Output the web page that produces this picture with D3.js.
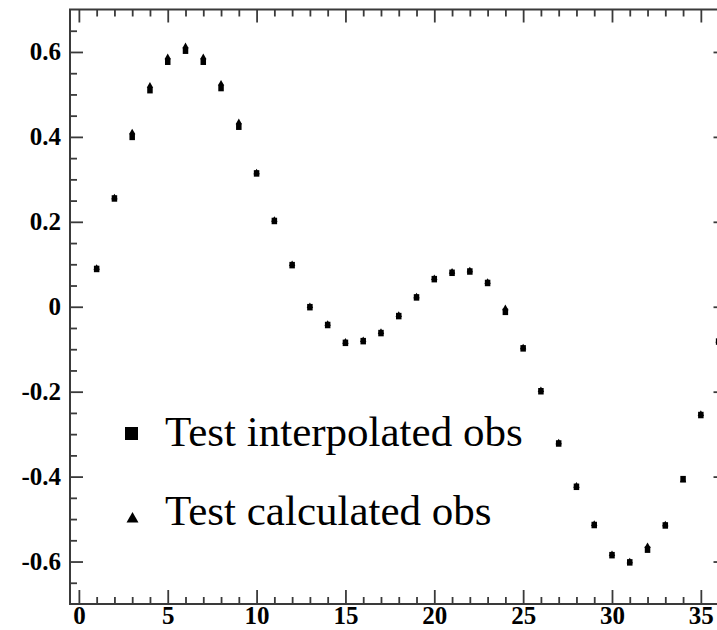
<!DOCTYPE html>
<html>
<head>
<meta charset="utf-8">
<script src="https://cdn.jsdelivr.net/npm/d3@7"></script>
<style>
  html, body { margin: 0; padding: 0; background: #fff; }
  svg { display: block; }
</style>
</head>
<body>
<svg id="chart" width="717" height="630"></svg>
<script>
// ---- data ----
const xValues = [1,2,3,4,5,6,7,8,9,10,11,12,13,14,15,16,17,18,19,20,21,22,23,24,25,26,27,28,29,30,31,32,33,34,35,36];
const interpolatedObs = [0.089,0.255,0.400,0.510,0.577,0.603,0.577,0.515,0.424,0.314,0.202,0.098,-0.001,-0.043,-0.085,-0.081,-0.062,-0.022,0.022,0.065,0.080,0.083,0.056,-0.012,-0.098,-0.199,-0.322,-0.424,-0.514,-0.585,-0.602,-0.572,-0.515,-0.406,-0.255,-0.082];
const calculatedObs  = [0.089,0.255,0.408,0.518,0.585,0.611,0.585,0.523,0.432,0.314,0.202,0.098,-0.001,-0.043,-0.085,-0.081,-0.062,-0.022,0.022,0.065,0.080,0.083,0.056,-0.006,-0.098,-0.199,-0.322,-0.424,-0.514,-0.585,-0.602,-0.566,-0.515,-0.411,-0.255,-0.082];
const xMajorTicks = [0,5,10,15,20,25,30,35];
const yMajorTicks = [0.6,0.4,0.2,0,-0.2,-0.4,-0.6];
const yTickLabels = ["0.6","0.4","0.2","0","-0.2","-0.4","-0.6"];
const legendLabels = ["Test interpolated obs","Test calculated obs"];

// ---- layout ----
const svg = d3.select("#chart");
const L = 70, R = 727.5, T = 9.5, B = 604;
const x = d3.scaleLinear().domain([-0.5, 36.5]).range([L, R]);
const y = d3.scaleLinear().domain([-0.7, 0.7]).range([B, T]);
const axisColor = "#3a3a3a";
const labelFont = "Liberation Serif, Times New Roman, serif";

const xMinor = d3.range(0, 37).filter(v => v % 5 !== 0);
const yMinor = d3.range(-13, 14).map(v => v * 0.05).filter(v => Math.abs(Math.round(v * 20)) % 4 !== 0);

function styleAxis(g) {
  g.select(".domain").remove();
  g.selectAll(".tick line").attr("stroke", axisColor).attr("stroke-width", 1.8);
}

// bottom axis
svg.append("g").attr("transform", `translate(0,${B})`)
  .call(d3.axisBottom(x).tickValues(xMajorTicks).tickSize(-14).tickFormat(d3.format("d")))
  .call(styleAxis)
  .call(g => g.selectAll("text").attr("y", 20).attr("dy", null)
    .attr("font-family", labelFont)
    .attr("font-weight", "bold").attr("font-size", 25).attr("fill", "#000"));
svg.append("g").attr("transform", `translate(0,${B})`)
  .call(d3.axisBottom(x).tickValues(xMinor).tickSize(-7).tickFormat(""))
  .call(styleAxis);
// top axis
svg.append("g").attr("transform", `translate(0,${T})`)
  .call(d3.axisTop(x).tickValues(xMajorTicks).tickSize(-13).tickFormat(""))
  .call(styleAxis);
svg.append("g").attr("transform", `translate(0,${T})`)
  .call(d3.axisTop(x).tickValues(xMinor).tickSize(-7).tickFormat(""))
  .call(styleAxis);
// left axis
svg.append("g").attr("transform", `translate(${L},0)`)
  .call(d3.axisLeft(y).tickValues(yMajorTicks).tickSize(-13)
    .tickFormat((d, i) => yTickLabels[i]))
  .call(styleAxis)
  .call(g => g.selectAll("text").attr("x", -9)
    .attr("font-family", labelFont)
    .attr("font-weight", "bold").attr("font-size", 25).attr("fill", "#000"));
svg.append("g").attr("transform", `translate(${L},0)`)
  .call(d3.axisLeft(y).tickValues(yMinor).tickSize(-7).tickFormat(""))
  .call(styleAxis);
// right axis
svg.append("g").attr("transform", `translate(${R},0)`)
  .call(d3.axisRight(y).tickValues(yMajorTicks).tickSize(-14).tickFormat(""))
  .call(styleAxis);
svg.append("g").attr("transform", `translate(${R},0)`)
  .call(d3.axisRight(y).tickValues(yMinor).tickSize(-7).tickFormat(""))
  .call(styleAxis);

// frame
svg.append("rect").attr("x", L).attr("y", T).attr("width", R - L).attr("height", B - T)
  .attr("fill", "none").attr("stroke", axisColor).attr("stroke-width", 2);

// ---- marks ----
const tri = d3.symbol().type(d3.symbolTriangle).size(18);
svg.append("g").selectAll("path").data(xValues)
  .join("path")
  .attr("d", tri)
  .attr("transform", (d, i) => `translate(${x(d)},${y(calculatedObs[i]) - 1})`)
  .attr("fill", "#000");

const sw = 5.5, sh = 6.5;
svg.append("g").selectAll("rect").data(xValues)
  .join("rect")
  .attr("x", d => x(d) - sw / 2)
  .attr("y", (d, i) => y(interpolatedObs[i]) - sh / 2)
  .attr("width", sw).attr("height", sh)
  .attr("fill", "#000");

// ---- legend ----
const lg = svg.append("g");
lg.append("rect").attr("x", 125).attr("y", 427).attr("width", 13).attr("height", 13).attr("fill", "#000");
lg.append("path").attr("d", d3.symbol().type(d3.symbolTriangle).size(62))
  .attr("transform", "translate(132.5,519)").attr("fill", "#000");
lg.selectAll("text").data(legendLabels).join("text")
  .attr("x", 165).attr("y", (d, i) => i === 0 ? 446 : 525)
  .attr("font-family", labelFont)
  .attr("font-size", 43).attr("fill", "#000")
  .text(d => d);
</script>
</body>
</html>
